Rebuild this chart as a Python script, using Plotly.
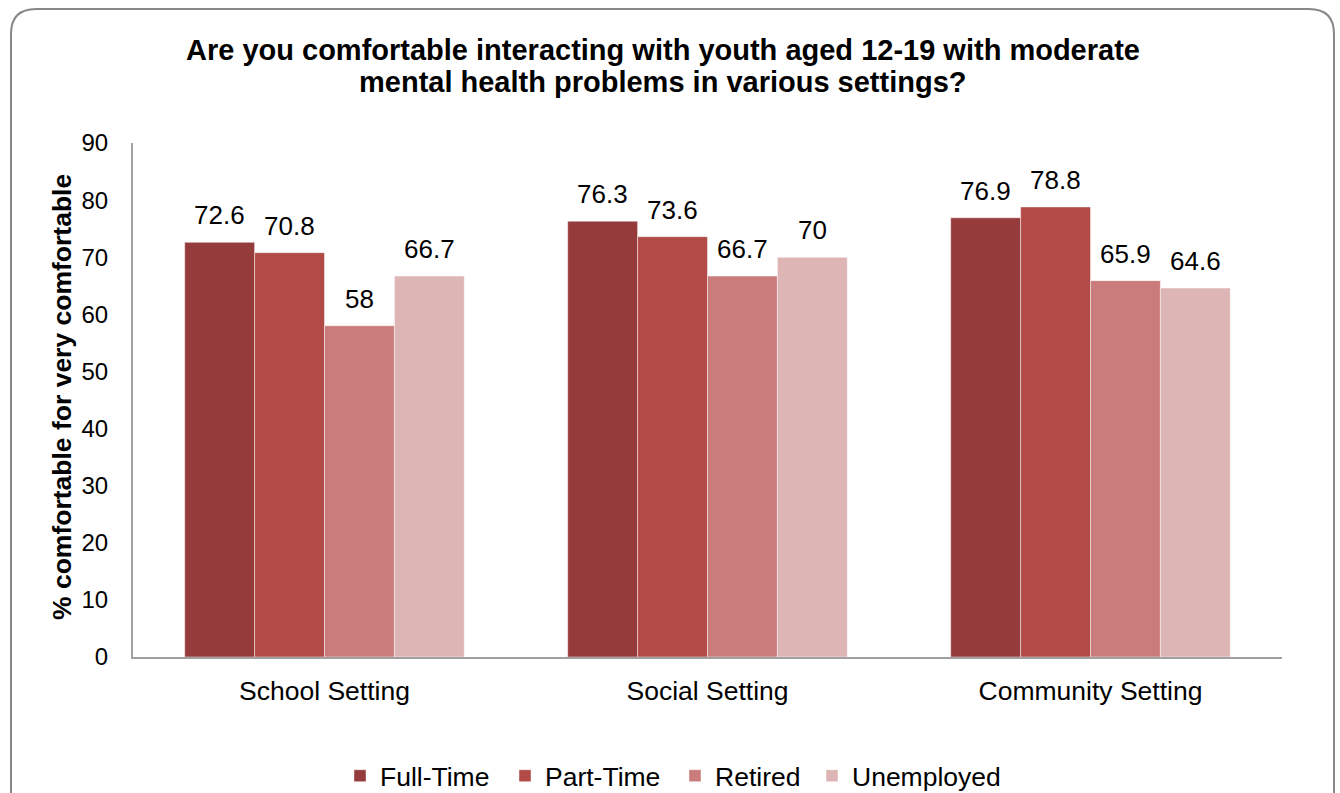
import plotly.graph_objects as go

categories = ["School Setting", "Social Setting", "Community Setting"]
series_names = ["Full-Time", "Part-Time", "Retired", "Unemployed"]
full_time = [72.6, 76.3, 76.9]
part_time = [70.8, 73.6, 78.8]
retired = [58, 66.7, 65.9]
unemployed = [66.7, 70, 64.6]
y_ticks = [0, 10, 20, 30, 40, 50, 60, 70, 80, 90]
title_lines = ["Are you comfortable interacting with youth aged 12-19 with moderate",
               "mental health problems in various settings?"]
y_title = "% comfortable for very comfortable"

series_values = [full_time, part_time, retired, unemployed]
colors = ["#953B3B", "#B24B48", "#CA7C7C", "#DEB5B5"]
legend_square_centers = [360, 525, 695, 832]  # pixel x of legend swatches

W, H = 1340, 793
L, R, T, B = 133, 1282, 143, 657
pw, ph = R - L, B - T

def px(x):
    return (x - L) / pw

def py(y):
    return (B - y) / ph

FONT = "Liberation Sans, Arial, sans-serif"

fig = go.Figure()
legend_ids = ["legend", "legend2", "legend3", "legend4"]
for name, vals, col, lid in zip(series_names, series_values, colors, legend_ids):
    fig.add_trace(go.Bar(
        x=categories, y=vals, name=name, legend=lid, showlegend=True,
        marker=dict(color=col, line=dict(color="rgba(255,255,255,0.45)", width=1)),
    ))

# data labels
bar_px = pw / 3 * 0.73 / 4
annotations = []
for i, vals in enumerate(series_values):
    for c, v in zip(categories, vals):
        annotations.append(dict(
            x=c, y=v, xref="x", yref="y", text=f"{v:g}", showarrow=False,
            xshift=(i - 1.5) * bar_px, yshift=27, yanchor="middle",
            font=dict(size=26, color="black", family=FONT),
        ))

for line, yc in zip(title_lines, [50, 82]):
    annotations.append(dict(
        x=px(663), y=py(yc), xref="paper", yref="paper", xanchor="center", yanchor="middle",
        text=f"<b>{line}</b>", showarrow=False, font=dict(size=29, color="black", family=FONT),
    ))
annotations.append(dict(
    x=px(62), y=py(397), xref="paper", yref="paper", xanchor="center", yanchor="middle",
    text=f"<b>{y_title}</b>", textangle=-90,
    showarrow=False, font=dict(size=26.5, color="black", family=FONT),
))

# rounded border
bl, bt, br, bb, r = 11, 9, 1334, 820, 25
path = (f"M {px(bl)},{py(bb)} L {px(bl)},{py(bt + r)} Q {px(bl)},{py(bt)} {px(bl + r)},{py(bt)} "
        f"L {px(br - r)},{py(bt)} Q {px(br)},{py(bt)} {px(br)},{py(bt + r)} L {px(br)},{py(bb)}")

legend_layouts = {}
for lid, cx in zip(legend_ids, legend_square_centers):
    legend_layouts[lid] = dict(
        orientation="h", xref="container", yref="container",
        x=(cx - 20) / W, y=1 - 776 / H, xanchor="left", yanchor="middle",
        font=dict(size=26.5, family=FONT, color="black"), itemwidth=30,
        bgcolor="rgba(0,0,0,0)", borderwidth=0,
    )

fig.update_layout(
    width=W, height=H,
    margin=dict(l=L, r=W - R, t=T, b=H - B, pad=0, autoexpand=False),
    paper_bgcolor="white", plot_bgcolor="white",
    barmode="group", bargap=0.27, bargroupgap=0,
    font=dict(family=FONT, size=26, color="black"),
    showlegend=True,
    annotations=annotations,
    shapes=[dict(type="path", path=path, xref="paper", yref="paper",
                 line=dict(color="#878787", width=2))],
    xaxis=dict(showline=True, linecolor="#a0a0a0", linewidth=2, ticks="",
               ticklabelstandoff=9,
               tickfont=dict(size=26.5, family=FONT), showgrid=False),
    yaxis=dict(range=[0, 90], tickvals=y_ticks, showline=True, linecolor="#a0a0a0", linewidth=2,
               ticks="", showgrid=False, zeroline=False, ticklabelstandoff=18,
               tickfont=dict(size=24, family=FONT)),
    **legend_layouts,
)

fig.write_html("out.html")
